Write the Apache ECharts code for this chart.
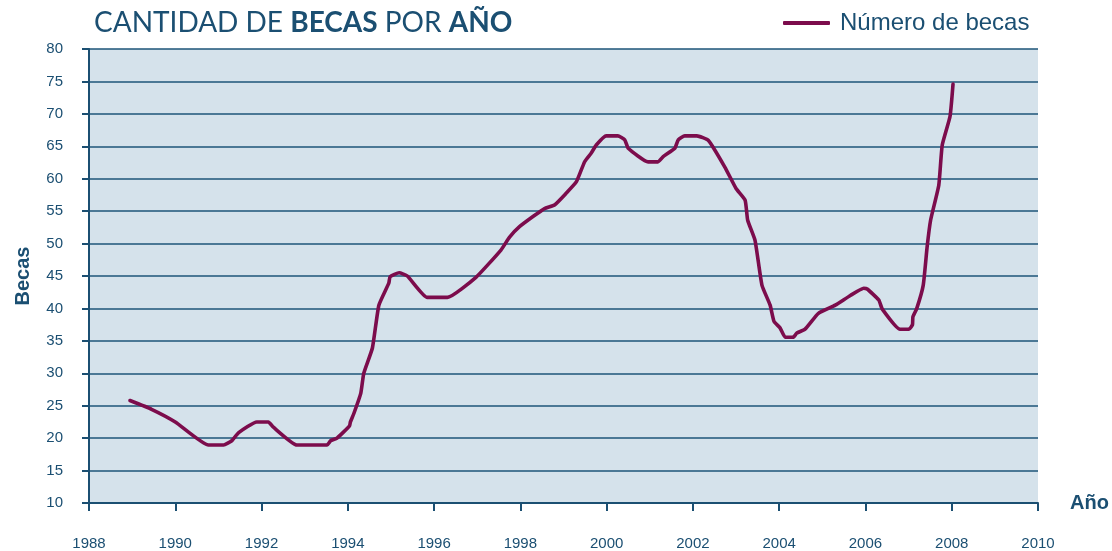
<!DOCTYPE html>
<html>
<head>
<meta charset="utf-8">
<title>Cantidad de becas por año</title>
<script src="https://cdn.jsdelivr.net/npm/echarts@6/dist/echarts.min.js"></script>
<style>
  html, body { margin: 0; padding: 0; background: #fff; }
  #chart { width: 1112px; height: 551px; }
</style>
</head>
<body>
<div id="chart"></div>
<script>
// años (eje x)
const years = [
  1988.95, 1989.45, 1990.0, 1990.77, 1991.12, 1991.31, 1991.47, 1991.89, 1992.16, 1992.26,
  1992.82, 1993.52, 1993.6, 1993.75, 1994.04, 1994.06, 1994.14, 1994.3, 1994.37, 1994.57,
  1994.72, 1994.95, 1994.98, 1995.19, 1995.38, 1995.84, 1996.31, 1996.97, 1997.55, 1997.75,
  1997.98, 1998.3, 1998.56, 1998.8, 1999.06, 1999.3, 1999.49, 1999.64, 1999.76, 1999.99,
  2000.26, 2000.42, 2000.5, 2000.96, 2001.19, 2001.31, 2001.58, 2001.66, 2001.81, 2002.09,
  2002.36, 2002.74, 2003.0, 2003.21, 2003.27, 2003.44, 2003.6, 2003.79, 2003.88, 2004.02,
  2004.14, 2004.32, 2004.41, 2004.6, 2004.91, 2005.3, 2005.65, 2005.96, 2006.04, 2006.31,
  2006.39, 2006.8, 2007.01, 2007.09, 2007.1, 2007.19, 2007.34, 2007.43, 2007.51, 2007.7,
  2007.78, 2007.96, 2008.03
]
// número de becas
const becas = [
  25.8, 24.45, 22.5, 18.95, 18.95, 19.6, 20.85, 22.5, 22.5, 21.77,
  18.95, 18.95, 19.6, 20.0, 21.9, 22.5, 23.8, 26.9, 30.0, 33.9,
  40.5, 43.9, 44.9, 45.5, 45.0, 41.7, 41.7, 44.8, 49.0, 51.0,
  52.6, 54.2, 55.4, 56.0, 57.75, 59.54, 62.62, 63.92, 65.2, 66.6,
  66.6, 66.0, 64.7, 62.6, 62.6, 63.4, 64.7, 66.0, 66.6, 66.6,
  65.9, 61.8, 58.5, 56.7, 53.6, 50.5, 43.6, 40.5, 38.0, 37.0,
  35.55, 35.55, 36.2, 36.8, 39.25, 40.5, 42.0, 43.1, 43.0, 41.3,
  39.9, 36.8, 36.8, 37.5, 38.7, 40.0, 43.6, 49.5, 53.6, 59.0,
  65.2, 69.6, 74.6
]

const blue = '#1b4f72'
const chart = echarts.init(document.getElementById('chart'))

const option = {
  animation: false,
  title: {
    left: 89,
    top: 4,
    text: '{n|CANTIDAD DE }{b|BECAS}{n| POR }{b|AÑO}',
    textStyle: {
      rich: {
        n: { fontFamily: 'Lato', fontSize: 28, fontWeight: 400, color: blue },
        b: { fontFamily: 'Lato', fontSize: 28, fontWeight: 700, color: blue }
      }
    }
  },
  legend: {
    left: 783,
    top: 11,
    padding: 0,
    icon: 'roundRect',
    itemWidth: 47,
    itemHeight: 4,
    textStyle: {
      fontFamily: 'Liberation Sans',
      fontSize: 24,
      color: blue,
      padding: [0, 0, 0, 5]
    },
    data: ['Número de becas']
  },
  grid: {
    left: 89,
    right: 74,
    top: 49,
    bottom: 48,
    show: true,
    backgroundColor: '#d5e2eb',
    borderWidth: 0
  },
  xAxis: {
    type: 'value',
    min: 1988,
    max: 2010,
    interval: 2,
    name: 'Año',
    nameLocation: 'end',
    nameGap: 32,
    nameTextStyle: {
      fontFamily: 'Liberation Sans',
      fontSize: 20,
      fontWeight: 'bold',
      color: blue,
      verticalAlign: 'middle'
    },
    axisLine: { lineStyle: { color: blue, width: 2 } },
    axisTick: { show: true, length: 8, lineStyle: { color: blue, width: 2 } },
    axisLabel: {
      margin: 33,
      fontFamily: 'Liberation Sans',
      fontSize: 15,
      color: blue,
      formatter: v => String(v)
    },
    splitLine: { show: false }
  },
  yAxis: {
    type: 'value',
    min: 10,
    max: 80,
    interval: 5,
    name: 'Becas',
    nameLocation: 'middle',
    nameGap: 56,
    nameRotate: 90,
    nameTextStyle: {
      fontFamily: 'Liberation Sans',
      fontSize: 20,
      fontWeight: 'bold',
      color: blue
    },
    axisLine: { show: true, lineStyle: { color: blue, width: 2 } },
    axisTick: { show: true, length: 7, lineStyle: { color: blue, width: 2 } },
    axisLabel: {
      margin: 26,
      fontFamily: 'Liberation Sans',
      fontSize: 15,
      color: blue
    },
    splitLine: { show: true, lineStyle: { color: '#1d5579', width: 1.6 } }
  },
  series: [{
    name: 'Número de becas',
    type: 'line',
    data: years.map((y, i) => [y, becas[i]]),
    showSymbol: false,
    smooth: 0.15,
    color: '#7c0c4c',
    lineStyle: { color: '#7c0c4c', width: 3.6, cap: 'round', join: 'round' },
    z: 5
  }]
}

chart.setOption(option)
</script>
</body>
</html>
